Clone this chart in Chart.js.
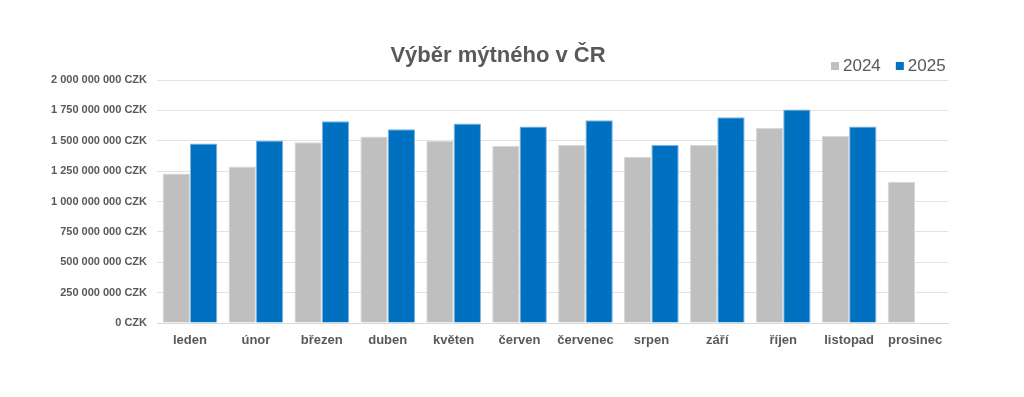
<!DOCTYPE html>
<html>
<head>
<meta charset="utf-8">
<script src="https://cdn.jsdelivr.net/npm/chart.js@4/dist/chart.umd.min.js"></script>
<style>
  html, body { margin: 0; padding: 0; background: #fff; }
  #wrap { width: 1024px; height: 397px; }
</style>
</head>
<body>
<div id="wrap"><canvas id="grafMyto"></canvas></div>
<script>
// Data – výběr mýtného po měsících (CZK)
const mesice = ['leden', 'únor', 'březen', 'duben', 'květen', 'červen', 'červenec', 'srpen', 'září', 'říjen', 'listopad', 'prosinec'];
const vyber2024 = [1231000000, 1289000000, 1487000000, 1536000000, 1497000000, 1459000000, 1464000000, 1368000000, 1464000000, 1607000000, 1541000000, 1162000000];
const vyber2025 = [1478000000, 1503000000, 1660000000, 1594000000, 1643000000, 1618000000, 1668000000, 1464000000, 1693000000, 1758000000, 1618000000, null];
const roky = ['2024', '2025'];
const nadpis = 'Výběr mýtného v ČR';

const FONT = '"Liberation Sans", Arial, sans-serif';
const SEDA = '#595959';

function formatCZK(v) {
  return String(v).replace(/\B(?=(\d{3})+(?!\d))/g, ' ') + ' CZK';
}

// Nadpis a legenda kreslené ručně (Excel styl)
const nadpisLegenda = {
  id: 'nadpisLegenda',
  afterDraw(chart) {
    const c = chart.ctx;
    c.save();
    c.fillStyle = SEDA;
    c.font = 'bold 22px ' + FONT;
    c.textAlign = 'center';
    c.textBaseline = 'middle';
    c.fillText(nadpis, 498, 56);

    c.font = '17px ' + FONT;
    c.textAlign = 'left';
    let x = 831;
    chart.data.datasets.forEach(ds => {
      c.fillStyle = ds.backgroundColor;
      c.fillRect(x, 62, 8, 8);
      c.fillStyle = SEDA;
      c.fillText(ds.label, x + 12, 66);
      x += 12 + c.measureText(ds.label).width + 15;
    });
    c.restore();
  }
};

new Chart(document.getElementById('grafMyto'), {
  type: 'bar',
  data: {
    labels: mesice,
    datasets: [{
      label: roky[0],
      data: vyber2024,
      backgroundColor: '#BFBFBF',
      borderColor: '#D9D9D9',
      borderWidth: 1
    }, {
      label: roky[1],
      data: vyber2025,
      backgroundColor: '#0070C0',
      borderColor: '#7FB6E0',
      borderWidth: 1
    }]
  },
  options: {
    responsive: true,
    maintainAspectRatio: false,
    animation: false,
    layout: { padding: { top: 80, right: 76, bottom: 0, left: 0 } },
    datasets: {
      bar: { categoryPercentage: 0.83, barPercentage: 1.0 }
    },
    plugins: {
      legend: { display: false },
      title: { display: false },
      tooltip: { enabled: false }
    },
    scales: {
      x: {
        grid: { display: false, drawTicks: false },
        border: { display: true, color: '#D9D9D9' },
        ticks: { color: SEDA, padding: 10, font: { family: FONT, size: 13, weight: 'bold' } },
        afterFit: s => { s.height = 74; }
      },
      y: {
        min: 0,
        max: 2000000000,
        grid: { color: '#E3E3E3', drawTicks: false },
        border: { display: false },
        ticks: {
          stepSize: 250000000,
          color: SEDA,
          padding: 10,
          font: { family: FONT, size: 11, weight: 'bold' },
          callback: v => formatCZK(v)
        },
        afterFit: s => { s.width = 157; }
      }
    }
  },
  plugins: [nadpisLegenda]
});
</script>
</body>
</html>
